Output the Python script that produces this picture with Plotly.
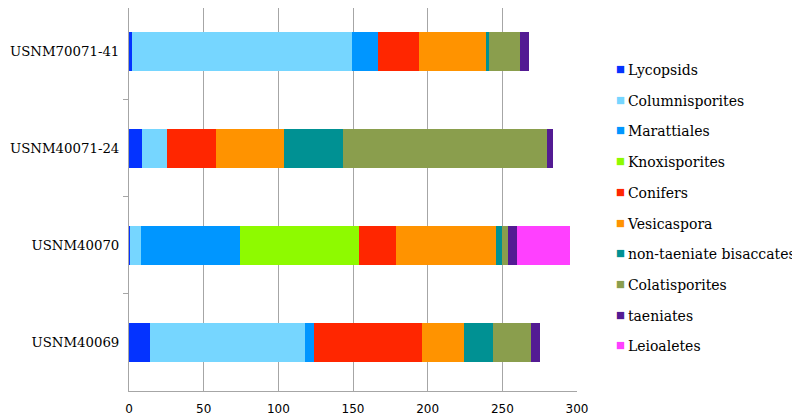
import plotly.graph_objects as go

# Data
samples = ["USNM70071-41", "USNM40071-24", "USNM40070", "USNM40069"]

taxa = ["Lycopsids", "Columnisporites", "Marattiales", "Knoxisporites", "Conifers",
        "Vesicaspora", "non-taeniate bisaccates", "Colatisporites", "taeniates", "Leioaletes"]

lycopsids = [2, 9, 0.5, 14]
columnisporites = [147.5, 16.5, 7.5, 104]
marattiales = [17.5, 0, 66, 6]
knoxisporites = [0, 0, 80, 0]
conifers = [27, 33, 25, 72]
vesicaspora = [45, 45.5, 67, 28]
non_taeniate = [2, 39.5, 4, 20]
colatisporites = [21, 136.5, 4, 25]
taeniates = [6, 4, 6, 6]
leioaletes = [0, 0, 35, 0]

values = [lycopsids, columnisporites, marattiales, knoxisporites, conifers,
          vesicaspora, non_taeniate, colatisporites, taeniates, leioaletes]

colors = ["#0433FF", "#76D6FF", "#0096FF", "#8EFA00", "#FF2600",
          "#FF9300", "#009193", "#8A9E4D", "#531B93", "#FF40FF"]

fig = go.Figure()

# stacked bars
for name, vals, col in zip(taxa, values, colors):
    fig.add_trace(go.Bar(
        y=samples,
        x=vals,
        orientation="h",
        name=name,
        marker=dict(color=col, line=dict(width=0)),
        width=0.41,
        showlegend=False
    ))

# legend entries: small coloured square glyph right next to the text
for name, col in zip(taxa, colors):
    fig.add_trace(go.Scatter(
        x=[None],
        y=[None],
        mode="markers",
        name=(f"<span style='color:{col};font-size:9.5px;font-family:DejaVu Sans;"
              f"baseline-shift:3px'>■</span>\u2009{name}"),
        legendgroup=name,
        marker=dict(symbol="square", size=1, color="rgba(0,0,0,0)")
    ))

# page body has an 8px margin, so margins are shifted to compensate
fig.update_layout(
    barmode="stack",
    width=800,
    height=416,
    margin=dict(l=121, r=231, t=0, b=33, autoexpand=False),
    plot_bgcolor="white",
    paper_bgcolor="white",
    font=dict(family="DejaVu Serif", size=14, color="black"),
    legend=dict(
        x=0.998,
        y=0.88,
        xanchor="left",
        yanchor="top",
        traceorder="grouped",
        tracegroupgap=9.5,
        itemwidth=30,
        font=dict(family="DejaVu Serif", size=14, color="black"),
        bgcolor="rgba(0,0,0,0)"
    ),
    xaxis=dict(
        range=[0, 300],
        tickvals=[0, 50, 100, 150, 200, 250, 300],
        showgrid=True,
        gridcolor="#A6A6A6",
        gridwidth=1,
        zeroline=False,
        showline=True,
        linecolor="#A6A6A6",
        ticks="",
        ticklabelstandoff=7,
        automargin=False,
        tickfont=dict(family="DejaVu Sans", size=12, color="black")
    ),
    yaxis=dict(
        type="category",
        range=[3.5, -0.448],
        tickson="boundaries",
        ticks="outside",
        ticklen=5,
        tickcolor="#A6A6A6",
        showgrid=False,
        showline=True,
        linecolor="#A6A6A6",
        ticklabelstandoff=6,
        automargin=False,
        tickfont=dict(family="DejaVu Serif", size=13.3, color="black")
    )
)

fig.write_html("out.html")
